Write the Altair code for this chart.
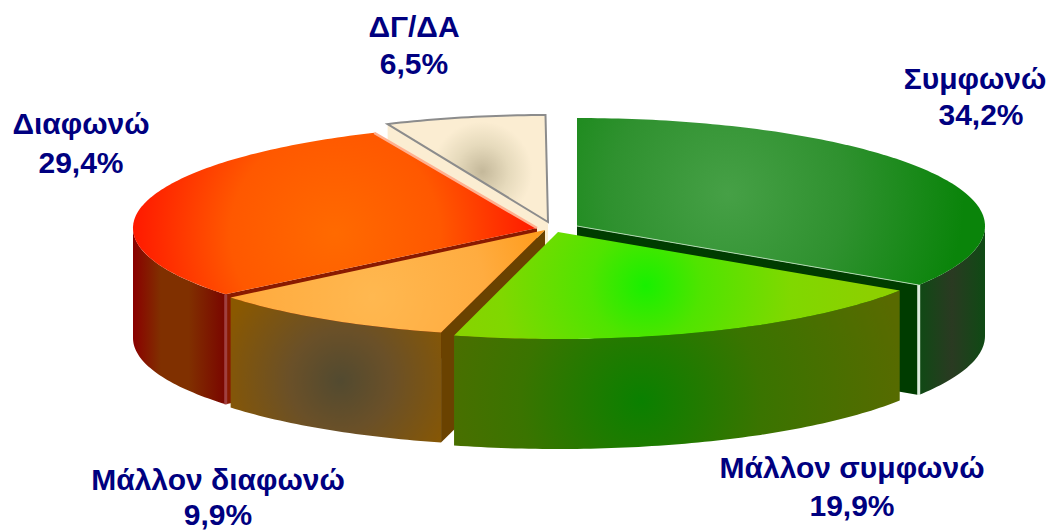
import numpy as np
import pandas as pd
import altair as alt

# --- data -----------------------------------------------------------------
names = ["Συμφωνώ", "Μάλλον συμφωνώ", "Μάλλον διαφωνώ", "Διαφωνώ", "ΔΓ/ΔΑ"]
shares = [34.2, 19.9, 9.9, 29.4, 6.5]
share_labels = ["34,2%", "19,9%", "9,9%", "29,4%", "6,5%"]

# --- layout (pixel space of the picture) ----------------------------------
centres = {0: (577, 226), 1: (558, 232), 2: (545, 230), 3: (537, 228), 4: (548, 222)}
radii = {0: (408, 108), 1: (408, 107), 2: (408, 106), 3: (404, 104), 4: (398, 107)}
DEPTH = 110
name_x = [975, 852, 218, 81, 414]
value_x = [981, 852, 218, 81, 414]
label_y1 = [89, 478, 490, 134, 37]
label_y2 = [125, 516, 525, 173, 74]

stops = np.cumsum([0] + shares) / 100 * 2 * np.pi


def rim(i, a):
    cx, cy = centres[i]
    rx, ry = radii[i]
    return cx + rx * np.sin(a), cy - ry * np.cos(a)


def angles(a0, a1):
    return np.linspace(a0, a1, max(int(abs(a1 - a0) * 60), 2))


def top_poly(i):
    xs, ys = rim(i, angles(stops[i], stops[i + 1]))
    cx, cy = centres[i]
    return np.r_[cx, xs], np.r_[cy, ys]


def wall_poly(i):
    a0 = max(stops[i], np.pi / 2)
    a1 = min(stops[i + 1], 3 * np.pi / 2)
    xs, ys = rim(i, angles(a0, a1))
    return np.r_[xs, xs[::-1]], np.r_[ys, ys[::-1] + DEPTH]


def face_poly(i, a):
    cx, cy = centres[i]
    x, y = rim(i, a)
    return np.array([cx, x, x, cx]), np.array([cy, y, y + DEPTH, cy + DEPTH])


XS = alt.Scale(domain=[8, 1047], zero=False, nice=False)
YS = alt.Scale(domain=[8, 530], reverse=True, zero=False, nice=False)


def enc(chart):
    return chart.encode(
        x=alt.X("x:Q", scale=XS, axis=None),
        y=alt.Y("y:Q", scale=YS, axis=None),
    )


def poly(xy, fill, stroke=None, sw=0):
    xs, ys = xy
    df = pd.DataFrame({"x": xs, "y": ys, "i": np.arange(len(xs))})
    kw = {"stroke": stroke, "strokeWidth": sw} if stroke else {"strokeWidth": 0}
    return enc(alt.Chart(df).mark_line(fill=fill, interpolate="linear-closed", **kw)).encode(order="i:Q")


def line(xs, ys, colour, sw):
    df = pd.DataFrame({"x": xs, "y": ys, "i": np.arange(len(xs))})
    return enc(alt.Chart(df).mark_line(stroke=colour, strokeWidth=sw)).encode(order="i:Q")


def radial(cx, cy, r, cols):
    return alt.RadialGradient(
        gradient="radial", x1=cx, y1=cy, r1=0, x2=cx, y2=cy, r2=r,
        stops=[alt.GradientStop(offset=o, color=c) for o, c in cols],
    )


def hgrad(cols):
    return alt.LinearGradient(
        gradient="linear", x1=0, x2=1, y1=0, y2=0,
        stops=[alt.GradientStop(offset=o, color=c) for o, c in cols],
    )


layers = []

# cream slice (back)
layers.append(poly(face_poly(4, stops[4]), "#fbedd2"))
layers.append(poly(top_poly(4), radial(0.59, 0.52, 0.48, [(0, "#c4b89a"), (0.35, "#e6dabc"), (0.65, "#fbedd2"), (1, "#fbedd2")]), "#8c8c8c", 2))

# red slice
a = stops[3]
layers.append(poly(face_poly(3, a), "#8a1a00"))
layers.append(poly(wall_poly(3), hgrad([(0, "#8a0000"), (0.3, "#803000"), (0.6, "#803000"), (1, "#7a0500")])))
layers.append(poly(top_poly(3), radial(0.5, 0.55, 0.52, [(0, "#ff6a00"), (0.5, "#ff5800"), (1, "#ff1400")])))
x_a, y_a = rim(3, stops[4])
layers.append(line([x_a, centres[3][0]], [y_a, centres[3][1]], "#ffb090", 2.5))
x_b, y_b = rim(3, a)
layers.append(line([x_b, x_b], [y_b, y_b + DEPTH], "#a04040", 3))

# green slice
x_g, y_g = rim(0, stops[1])
layers.append(poly(face_poly(0, stops[1]), "#003c00"))
layers.append(poly(wall_poly(0), hgrad([(0, "#0f4a14"), (0.5, "#2a3a22"), (1, "#0f4a14")])))
layers.append(poly(top_poly(0), radial(0.37, 0.48, 0.58, [(0, "#46a046"), (0.5, "#2f912f"), (1, "#0a840a")])))
layers.append(line([x_g, x_g], [y_g, y_g + DEPTH], "#dcecdc", 3))
layers.append(line([centres[0][0], x_g], [centres[0][1], y_g], "#b0d8b0", 1))

# orange slice
layers.append(poly(face_poly(2, stops[2]), "#6a4200"))
layers.append(poly(wall_poly(2), radial(0.52, 0.55, 0.6, [(0, "#524a30"), (0.4, "#6a5028"), (1, "#8a5800")])))
layers.append(poly(top_poly(2), radial(0.45, 0.55, 0.6, [(0, "#ffb850"), (0.6, "#ffac40"), (1, "#ff9a18")])))

# lime slice
layers.append(poly(wall_poly(1), radial(0.42, 0.57, 0.6, [(0, "#0a8000"), (0.45, "#3a7400"), (1, "#586a00")])))
layers.append(poly(top_poly(1), radial(0.43, 0.5, 0.5, [(0, "#18f000"), (0.25, "#50e400"), (0.65, "#80d800"), (1, "#8cd000")])))

# labels
text_df = pd.DataFrame({
    "x": name_x + value_x,
    "y": label_y1 + label_y2,
    "t": names + share_labels,
})
layers.append(
    enc(alt.Chart(text_df).mark_text(
        font="Liberation Sans", fontSize=30, fontWeight="bold", color="#000080",
        align="center", baseline="alphabetic",
    )).encode(text="t:N")
)

chart = alt.layer(*layers).properties(
    width=1039, height=522, padding=0, autosize=alt.AutoSizeParams(type="none")
).configure_view(stroke=None)

chart.save("out.html", embed_options={"renderer": "svg", "actions": False})
